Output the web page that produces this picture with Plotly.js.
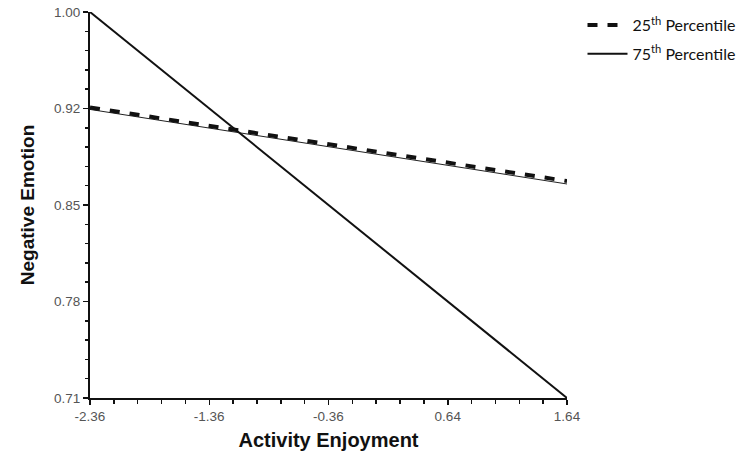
<!DOCTYPE html>
<html>
<head>
<meta charset="utf-8">
<script src="https://cdn.plot.ly/plotly-3.0.1.min.js"></script>
<style>html,body{margin:0;padding:0;background:#fff;}#chart{width:752px;height:457px;}</style>
</head>
<body>
<div id="chart"></div>
<script>
// Data
const enjoyment = [-2.36, 1.64];
const p25Values = [0.9283, 0.8730];      // dashed line
const p25Under = [0.9268, 0.8708];       // thin solid line drawn under the dashed one
const p75Values = [1.00, 0.71];
const seriesNames = ["25<sup>th</sup> Percentile", "75<sup>th</sup> Percentile"];
const xTickVals = [-2.36, -1.36, -0.36, 0.64, 1.64];
const xTickText = ["-2.36", "-1.36", "-0.36", "0.64", "1.64"];
const yTickVals = [0.71, 0.7825, 0.855, 0.9275, 1.00];
const yTickText = ["0.71", "0.78", "0.85", "0.92", "1.00"];

const traces = [
  {x: enjoyment, y: p25Under, mode: "lines", line: {color: "#222", width: 1}, showlegend: false, hoverinfo: "skip"},
  {x: enjoyment, y: p25Values, mode: "lines", name: seriesNames[0], legendgroup: "a", line: {color: "#111", width: 4, dash: "10px,10px"}},
  {x: enjoyment, y: p75Values, mode: "lines", name: seriesNames[1], legendgroup: "b", line: {color: "#111", width: 2}}
];

const tickFont = {family: "Liberation Sans, Arial, sans-serif", size: 13.5, color: "#555"};
const layout = {
  width: 752, height: 457,
  margin: {l: 90, r: 185, t: 12, b: 59, autoexpand: false},
  paper_bgcolor: "#fff", plot_bgcolor: "#fff",
  font: {family: "Liberation Sans, Arial, sans-serif"},
  xaxis: {
    range: [-2.36, 1.64], tickmode: "array", tickvals: xTickVals, ticktext: xTickText,
    showgrid: false, zeroline: false, showline: true, linecolor: "#111", linewidth: 2,
    ticks: "outside", ticklen: 5, tickwidth: 1.5, tickcolor: "#111", tickfont: tickFont,
    minor: {tickmode: "linear", tick0: -2.36, dtick: 0.2, ticks: "outside", ticklen: 4, tickwidth: 1.5, tickcolor: "#111", showgrid: false},
    title: {text: "Activity Enjoyment", font: {family: "Liberation Sans, Arial, sans-serif", size: 20, color: "#111", weight: "bold"}, standoff: 10}
  },
  yaxis: {
    range: [0.71, 1.00], tickmode: "array", tickvals: yTickVals, ticktext: yTickText,
    showgrid: false, zeroline: false, showline: true, linecolor: "#111", linewidth: 2,
    ticks: "outside", ticklen: 5, tickwidth: 1.5, tickcolor: "#111", tickfont: tickFont,
    minor: {tickmode: "linear", tick0: 0.71, dtick: 0.0145, ticks: "outside", ticklen: 3, tickwidth: 1.5, tickcolor: "#111", showgrid: false},
    title: {text: "Negative Emotion", font: {family: "Liberation Sans, Arial, sans-serif", size: 19, color: "#111", weight: "bold"}, standoff: 14}
  },
  showlegend: true,
  legend: {x: 1.0325, y: 1.01, xanchor: "left", yanchor: "top", bgcolor: "rgba(0,0,0,0)",
           traceorder: "grouped", tracegroupgap: 5,
           font: {family: "Lato, Open Sans, sans-serif", size: 16, color: "#111"}, itemwidth: 40}
};

Plotly.newPlot("chart", traces, layout, {displayModeBar: false, staticPlot: true});
</script>
</body>
</html>
